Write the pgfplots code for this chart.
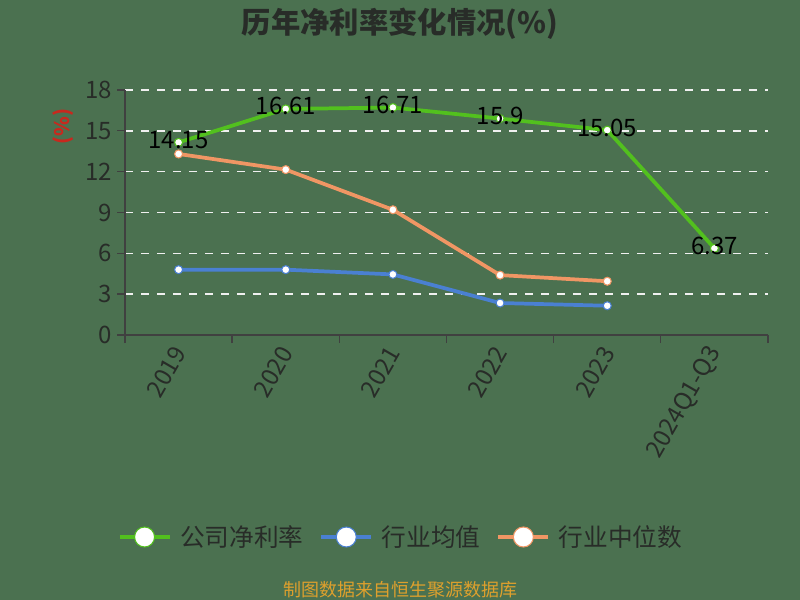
\documentclass[border=0pt]{standalone}
\usepackage{fontspec}
\setmainfont{Noto Sans CJK SC}
\usepackage{pgfplots}
\pgfplotsset{compat=1.18}

\definecolor{bg}{RGB}{75,113,80}
\definecolor{txt}{RGB}{40,44,40}
\definecolor{cgreen}{RGB}{82,192,30}
\definecolor{cblue}{RGB}{74,128,210}
\definecolor{corange}{RGB}{240,150,100}
\definecolor{csrc}{RGB}{222,160,45}
\definecolor{cunit}{RGB}{200,40,30}

\begin{document}
\begin{tikzpicture}
\fill[bg] (0pt,0pt) rectangle (600pt,450pt);
\path[use as bounding box] (0pt,0pt) rectangle (600pt,450pt);
\node[text=txt] at (300pt,432pt) {\fontsize{22}{24}\selectfont\bfseries 历年净利率变化情况(\%)};
\node[text=cunit, rotate=90] at (47pt,355pt) {\fontsize{15}{17}\selectfont\bfseries (\%)};
\node[text=csrc] at (300pt,8pt) {\fontsize{13.5}{15}\selectfont 制图数据来自恒生聚源数据库};

\begin{axis}[
  at={(93.75pt,198.75pt)}, anchor=south west,
  scale only axis, width=482.25pt, height=183.75pt,
  xmin=-0.5, xmax=5.5, ymin=0, ymax=18,
  ytick={0,3,...,18},
  xtick={-0.5,0.5,...,5.5},
  x tick label as interval,
  xticklabels={2019,2020,2021,2022,2023,2024Q1-Q3},
  axis x line*=bottom, axis y line*=left,
  axis line style={draw=black!75, line width=1pt},
  tick align=outside, major tick length=6pt,
  tick style={draw=black!75, line width=1pt},
  ymajorgrids,
  grid style={draw=white!88!gray, line width=1.1pt, dash pattern=on 6pt off 6pt},
  /pgf/number format/assume math mode=true,
  ticklabel style={font=\fontsize{18}{20}\selectfont, text=txt},
  xticklabel style={rotate=60, anchor=east, yshift=-3pt},
  clip=false,
  legend columns=3,
  legend style={at={(-0.018,-0.8245)}, anchor=west, draw=none, fill=none,
    font=\fontsize{18.5}{20}\selectfont, text=txt,
    /tikz/every odd column/.append style={column sep=4.5pt},
    /tikz/every even column/.append style={column sep=10pt}},
  legend image code/.code={\draw[mark repeat=2,mark phase=2,#1,mark size=7.5pt] plot coordinates {(0pt,0pt)(18.75pt,0pt)(37.5pt,0pt)};},
]
\addplot[cgreen, line width=2.8pt, mark=*, mark size=3pt,
  mark options={fill=white, draw=cgreen, line width=0.8pt},
  point meta=explicit symbolic, nodes near coords,
  nodes near coords style={anchor=center, yshift=2pt, text=black, font=\fontsize{18}{20}\selectfont}]
coordinates {
(0,14.15)[14.15]
(1,16.61)[16.61]
(2,16.71)[16.71]
(3,15.9)[15.9]
(4,15.05)[15.05]
(5,6.37)[6.37]
};
\addlegendentry{公司净利率}
\addplot[cblue, line width=2.8pt, mark=*, mark size=3pt,
  mark options={fill=white, draw=cblue, line width=0.8pt}]
coordinates {
(0,4.8)
(1,4.8)
(2,4.45)
(3,2.35)
(4,2.15)
};
\addlegendentry{行业均值}
\addplot[corange, line width=2.8pt, mark=*, mark size=3pt,
  mark options={fill=white, draw=corange, line width=0.8pt}]
coordinates {
(0,13.3)
(1,12.15)
(2,9.2)
(3,4.4)
(4,3.95)
};
\addlegendentry{行业中位数}
\end{axis}
\end{tikzpicture}
\end{document}
